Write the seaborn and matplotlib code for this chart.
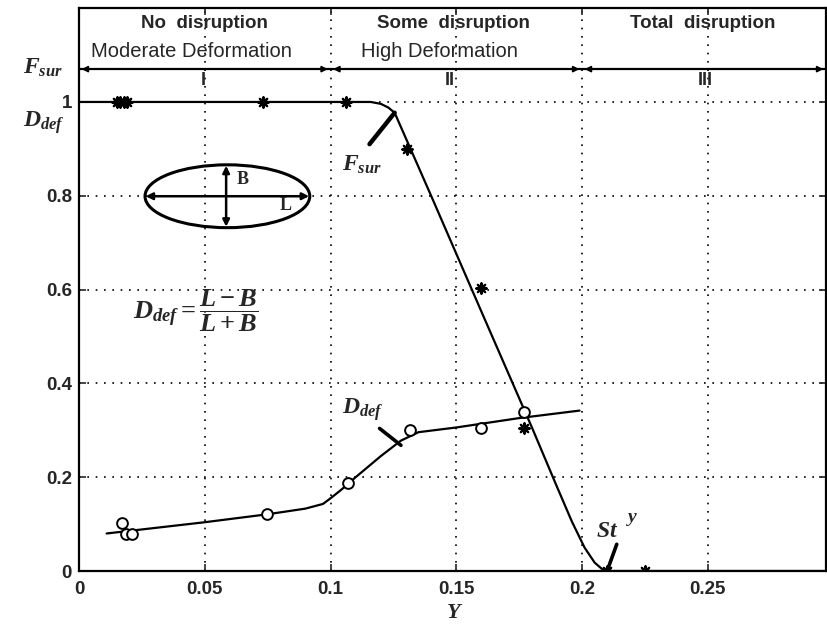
import numpy as np
import pandas as pd
import seaborn as sns
import matplotlib.pyplot as plt
from matplotlib.patches import Ellipse

# measured points
fsur_x = [0.015, 0.0165, 0.018, 0.019, 0.073, 0.106, 0.1306, 0.160, 0.177, 0.210, 0.225]
fsur_y = [1.0, 1.0, 1.0, 1.0, 1.0, 1.0, 0.90, 0.604, 0.304, 0.0, 0.0]
ddef_x = [0.017, 0.0185, 0.021, 0.0747, 0.107, 0.1317, 0.160, 0.177]
ddef_y = [0.102, 0.079, 0.079, 0.121, 0.187, 0.300, 0.304, 0.338]

# fitted curves
fcurve_x = [0.0, 0.116, 0.120, 0.123, 0.1255, 0.14, 0.16, 0.18, 0.19, 0.196, 0.201, 0.205, 0.208, 0.211, 0.297]
fcurve_y = [1.0, 1.0, 0.996, 0.988, 0.977, 0.80, 0.553, 0.307, 0.180, 0.105, 0.050, 0.018, 0.004, 0.0, 0.0]
dcurve_x = [0.011, 0.05, 0.075, 0.09, 0.097, 0.100, 0.104, 0.110, 0.120, 0.128, 0.135, 0.150, 0.175, 0.199]
dcurve_y = [0.080, 0.104, 0.121, 0.133, 0.143, 0.155, 0.172, 0.200, 0.245, 0.278, 0.296, 0.306, 0.326, 0.342]

xticks = [0, 0.05, 0.1, 0.15, 0.2, 0.25]
xticklabels = ["0", "0.05", "0.1", "0.15", "0.2", "0.25"]
yticks = [0, 0.2, 0.4, 0.6, 0.8, 1.0]
yticklabels = ["0", "0.2", "0.4", "0.6", "0.8", "1"]

regions = [(0.0, 0.1), (0.1, 0.2), (0.2, 0.297)]
region_top = ["No  disruption", "Some  disruption", "Total  disruption"]
top_x = [0.050, 0.1488, 0.248]
region_bottom = ["Moderate Deformation", "High Deformation", ""]
bottom_x = [0.0448, 0.1432, 0.248]
region_num = ["I", "II", "III"]
num_x = [0.0496, 0.1476, 0.2488]

sns.set_style("ticks")
plt.rcParams['font.family'] = ['Liberation Sans', 'DejaVu Sans']
plt.rcParams['mathtext.fontset'] = 'custom'
plt.rcParams['mathtext.rm'] = 'Liberation Serif:bold'
plt.rcParams['mathtext.it'] = 'Liberation Serif:italic:bold'
plt.rcParams['mathtext.bf'] = 'Liberation Serif:bold'

fig = plt.figure(figsize=(8.28, 6.27), dpi=100)
ax = fig.add_axes([0.0954, 0.0893, 0.9022, 0.8977])

# grid
ax.grid(True, linestyle=(0, (1, 4)), color='k', linewidth=1.2)

# curves
sns.lineplot(x=fcurve_x, y=fcurve_y, ax=ax, color='k', linewidth=1.6, sort=False)
sns.lineplot(x=dcurve_x, y=dcurve_y, ax=ax, color='k', linewidth=1.6, sort=False)

# markers
sns.scatterplot(x=fsur_x, y=fsur_y, ax=ax, marker=(8, 2, 0), s=55, color='k',
                linewidth=1.6, zorder=5)
sns.scatterplot(x=ddef_x, y=ddef_y, ax=ax, marker='o', s=60, facecolor='white',
                edgecolor='k', linewidth=1.4, zorder=5)

ax.set_xlim(0, 0.297)
ax.set_ylim(0, 1.2)
ax.set_xticks(xticks)
ax.set_xticklabels(xticklabels, fontsize=13.5, fontweight='bold')
ax.set_yticks(yticks)
ax.set_yticklabels(yticklabels, fontsize=13.5, fontweight='bold')
ax.tick_params(direction='in', length=5, width=1.2, top=True, right=True)
ax.tick_params(axis='x', pad=7)
ax.tick_params(axis='y', pad=5)
for s in ax.spines.values():
    s.set_linewidth(1.6)
    s.set_color('k')

# header region
ax.axhline(1.07, color='k', linewidth=1.6)
for (x0, x1), t, tx, b, bx, n, nx in zip(regions, region_top, top_x, region_bottom,
                                         bottom_x, region_num, num_x):
    ax.annotate("", xy=(x0 + 0.001, 1.07), xytext=(x1 - 0.001, 1.07),
                arrowprops=dict(arrowstyle='<|-|>', color='k', lw=1.2,
                                mutation_scale=9, shrinkA=0, shrinkB=0))
    ax.text(tx, 1.168, t, ha='center', va='center', fontsize=13.5, fontweight='bold')
    if b:
        ax.text(bx, 1.108, b, ha='center', va='center', fontsize=14.5)
    ax.text(nx, 1.045, n, ha='center', va='center', fontsize=13, fontweight='bold')

# ellipse sketch
ax.add_patch(Ellipse((0.059, 0.799), 0.0655, 0.134, fill=False, lw=2.2, color='k'))
ax.annotate("", xy=(0.0265, 0.799), xytext=(0.0915, 0.799),
            arrowprops=dict(arrowstyle='<|-|>', color='k', lw=1.8, mutation_scale=10,
                            shrinkA=0, shrinkB=0))
ax.annotate("", xy=(0.0585, 0.864), xytext=(0.0585, 0.734),
            arrowprops=dict(arrowstyle='<|-|>', color='k', lw=1.8, mutation_scale=10,
                            shrinkA=0, shrinkB=0))
ax.text(0.0625, 0.835, r"$\mathrm{B}$", fontsize=13, ha='left', va='center')
ax.text(0.0795, 0.78, r"$\mathrm{L}$", fontsize=13, ha='left', va='center')

# formula
ax.text(0.0465, 0.555, r"$D_{def}=\dfrac{L-B}{L+B}$", fontsize=19, ha='center', va='center')

# curve labels with pointers
ax.text(0.1045, 0.865, r"$F_{sur}$", fontsize=17, ha='left', va='center')
ax.plot([0.1155, 0.1255], [0.91, 0.977], color='k', lw=3.2, solid_capstyle='round')
ax.text(0.1045, 0.345, r"$D_{def}$", fontsize=17, ha='left', va='center')
ax.plot([0.1195, 0.128], [0.304, 0.268], color='k', lw=2.6)
ax.text(0.2055, 0.085, r"$St$", fontsize=17, ha='left', va='center')
ax.text(0.2175, 0.11, r"$y$", fontsize=14, ha='left', va='center')
ax.plot([0.2138, 0.2103], [0.057, 0.005], color='k', lw=2.6)

# side labels
fig.text(0.028, 1 - 68 / 627, r"$F_{sur}$", fontsize=17, ha='left', va='center')
fig.text(0.028, 1 - 123 / 627, r"$D_{def}$", fontsize=17, ha='left', va='center')
fig.text(455 / 828, 1 - 613 / 627, r"$Y$", fontsize=16, ha='center', va='center')

fig.savefig("out.png", dpi=100)
